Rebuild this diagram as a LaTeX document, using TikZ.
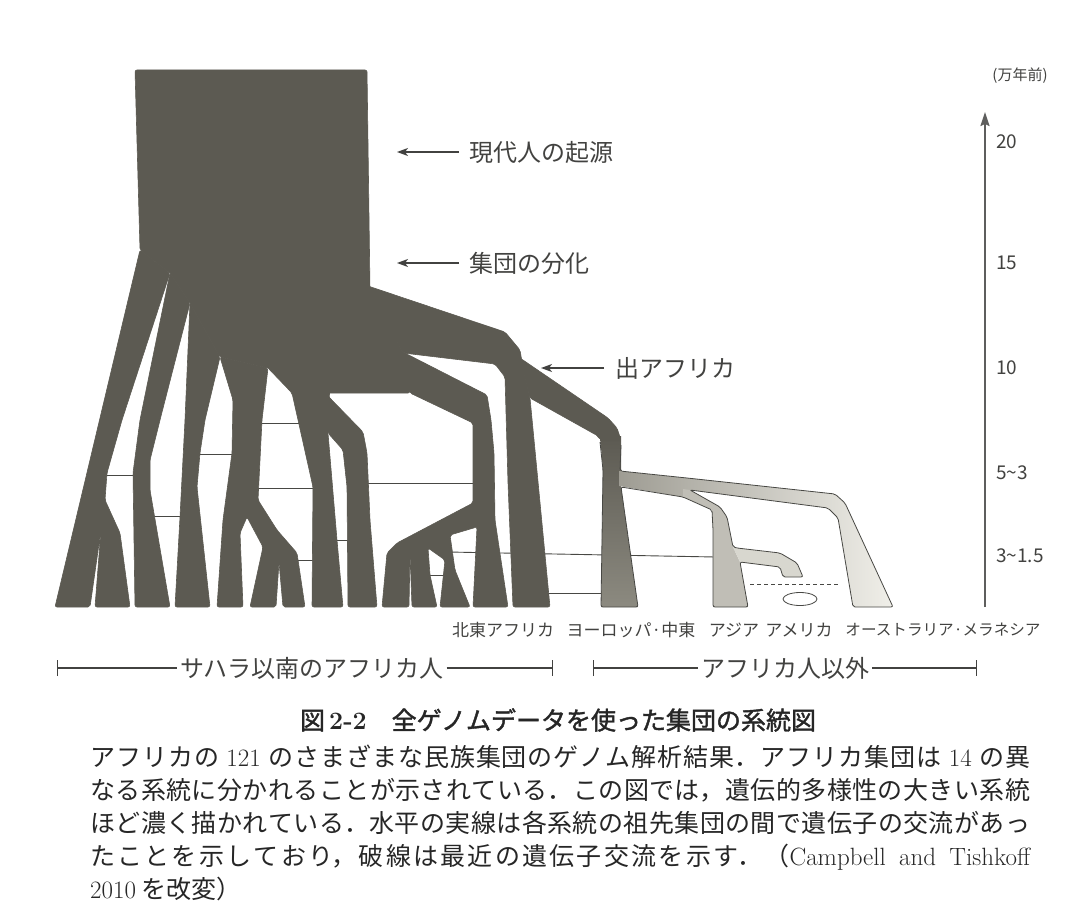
\documentclass[tikz,border=0pt]{standalone}
\usepackage{fontspec}
\newfontfamily\jp{Noto Sans CJK JP}
\newfontfamily\jpheavy[FakeBold=1.6]{Noto Sans CJK JP}
\usepackage{xcolor}
\usepackage{tikz}
\usetikzlibrary{arrows.meta,positioning}
\XeTeXlinebreaklocale "ja"
\XeTeXlinebreakskip=0pt plus 1.5pt

\definecolor{bark}{RGB}{92,90,82}
\definecolor{ink}{RGB}{66,66,64}
\definecolor{print}{RGB}{38,38,38}
\definecolor{flowline}{RGB}{72,72,68}
\definecolor{europe}{RGB}{140,138,128}
\definecolor{eurasia}{RGB}{158,156,147}
\definecolor{asia}{RGB}{192,190,182}
\definecolor{america}{RGB}{216,215,207}
\definecolor{oceania}{RGB}{240,239,233}

\tikzstyle{lineage} = [fill=bark, draw=bark, line width=0.6pt, rounded corners=2pt]
\tikzstyle{flow} = [draw=flowline, line width=0.9pt]
\tikzstyle{rim} = [draw=flowline, line width=0.8pt, rounded corners=2pt]
\tikzstyle{pointer} = [draw=ink, line width=1.2pt, -{Stealth[length=11pt,width=8pt,inset=3pt]}]
\tikzstyle{remark} = [anchor=west, inner sep=1pt, text=ink, font=\jp\fontsize{24}{28}\selectfont]
\tikzstyle{leaf} = [inner sep=0pt, text=ink, font=\jp\fontsize{17}{20}\selectfont]
\tikzstyle{agelabel} = [anchor=west, inner sep=0pt, text=ink, font=\jp\fontsize{19}{22}\selectfont]
\tikzstyle{axisline} = [draw=ink!85, line width=1.8pt, -{Stealth[length=14pt,width=9pt,inset=2pt]}]
\tikzstyle{bracket} = [draw=ink, line width=1.2pt]
\tikzstyle{region} = [inner sep=3pt, text=ink, font=\jp\fontsize{24}{28}\selectfont]

\begin{document}
\begin{tikzpicture}[x=1pt, y=-1pt]
    \useasboundingbox (0,0) rectangle (1086,920);

    % gene flow between ancestral lineages (drawn first, the branches cover the ends)
    \path [flow] (105,475) -- (136,475);
    \path [flow] (150,516) -- (182,516);
    \path [flow] (198,454) -- (234,454);
    \path [flow] (260,423) -- (300,423);
    \path [flow] (256,488) -- (315,488);
    \path [flow] (296,560) -- (315,560);
    \path [flow] (335,540) -- (350,540);
    \path [flow] (366,483) -- (476,483);
    \path [flow] (428,575) -- (446,575);
    \path [flow] (448,552) -- (715,557);
    \path [flow] (546,593) -- (604,593);
    \path [flow, dashed, dash pattern=on 4pt off 3pt] (750,584) -- (840,584);

    % trunk
    \fill [lineage] (135,70) -- (367,70) -- (370,290) -- (403,353) -- (410,393) -- (325,393)
        -- (268,368) -- (220,357) -- (190,303) -- (170,273) -- (140,250) -- cycle;
    % big branch to the right, ending in north-east Africa
    \fill [lineage] (365,285) -- (505,332) -- (520,350) -- (523,368) -- (530,398) -- (550,607)
        -- (513,607) -- (508,483) -- (505,377) -- (495,364) -- (403,353) -- cycle;

    % sub-Saharan lineages, left to right
    \fill [lineage] (140,250) -- (170,273) -- (122,420) -- (107,473) -- (105,500) -- (120,533)
        -- (130,607) -- (95,607) -- (101,530) -- (90,607) -- (55,607) -- cycle;
    \fill [lineage] (170,273) -- (190,303) -- (160,420) -- (150,460) -- (150,490) -- (170,607)
        -- (135,607) -- (133,473) -- (140,420) -- cycle;
    \fill [lineage] (190,303) -- (220,357) -- (205,420) -- (200,453) -- (197,487) -- (210,607)
        -- (175,607) -- (180,517) -- (185,420) -- cycle;
    \fill [lineage] (220,357) -- (268,368) -- (262,420) -- (258,500) -- (277,530) -- (297,553)
        -- (305,607) -- (283,607) -- (279,562) -- (276,607) -- (250,607) -- (263,547) -- (247,517)
        -- (240,533) -- (243,607) -- (217,607) -- (223,520) -- (232,453) -- (233,400) -- cycle;
    \fill [lineage] (268,368) -- (330,380) -- (328,433) -- (337,540) -- (343,607) -- (312,607)
        -- (313,487) -- (292,393) -- cycle;
    \fill [lineage] (325,393) -- (363,432) -- (367,453) -- (370,520) -- (377,607) -- (348,607)
        -- (347,487) -- (343,450) -- (328,433) -- cycle;
    % the fan of four lineages
    \fill [lineage] (395,348) -- (487,395) -- (491,420) -- (494,453) -- (495,520) -- (508,607)
        -- (473,607) -- (477,527) -- (450,535) -- (455,570) -- (470,607) -- (440,607) -- (445,560)
        -- (428,548) -- (430,575) -- (437,607) -- (412,607) -- (410,553) -- (409,607) -- (382,607)
        -- (387,553) -- (397,543) -- (473,503) -- (473,423) -- (410,393) -- cycle;

    % out of Africa
    \shade [top color=bark, bottom color=europe] (600,436) -- (621,436) -- (621,471) -- (621,487)
        -- (638,607) -- (601,607) -- (603,470) -- cycle;
    \shade [left color=eurasia, right color=oceania] (619,471) -- (687,478) -- (835,494) -- (845,503)
        -- (893,607) -- (853,607) -- (838,518) -- (828,508) -- (690,490) -- (683,497) -- (619,486) -- cycle;
    \fill [asia] (683,489) -- (690,490) -- (720,507) -- (727,517) -- (733,547) -- (740,562)
        -- (748,607) -- (713,607) -- (713,530) -- (712,510) -- (683,497) -- cycle;
    \fill [america] (733,547) -- (737,548) -- (780,553) -- (797,563) -- (803,577) -- (783,577)
        -- (780,567) -- (740,562) -- cycle;
    \fill [lineage] (520,358) -- (608,418) -- (617,428) -- (621,440) -- (600,440) -- (598,436)
        -- (530,398) -- cycle;
    \path [rim] (600,442) -- (603,470) -- (601,607) -- (638,607) -- (621,487) -- (683,497) -- (712,510)
        -- (713,530) -- (713,607) -- (748,607) -- (740,562) -- (780,567) -- (783,577) -- (803,577)
        -- (797,563) -- (780,553) -- (737,548) -- (733,547) -- (727,517) -- (720,507) -- (690,490)
        -- (828,508) -- (838,518) -- (853,607) -- (893,607) -- (845,503) -- (835,494) -- (687,478)
        -- (620,471) -- (621,445);
    \draw [flowline, line width=0.8pt] (800,599) ellipse [x radius=17pt, y radius=6.5pt];

    % events
    \node [remark] (origin) at (468,152) {現代人の起源};
    \node [remark] (split) at (468,263) {集団の分化};
    \node [remark] (exodus) at (614,368) {出アフリカ};
    \coordinate (originTip) at (397,152);
    \coordinate (splitTip) at (397,263);
    \coordinate (exodusTip) at (541,368);
    \path [pointer, shorten <=9pt] (origin) -- (originTip);
    \path [pointer, shorten <=9pt] (split) -- (splitTip);
    \path [pointer, shorten <=10pt] (exodus) -- (exodusTip);

    % time axis
    \coordinate (ageFoot) at (985,607);
    \coordinate (ageHead) at (985,112);
    \path [axisline] (ageFoot) -- (ageHead);
    \node [inner sep=0pt, text=ink, font=\jp\fontsize{15}{18}\selectfont] (unit) at (1020,76) {(万年前)};
    \node [agelabel] (age20) at (996,142) {20};
    \node [agelabel] (age15) at (996,263) {15};
    \node [agelabel] (age10) at (996,368) {10};
    \node [agelabel] (age5) at (996,473) {5\textasciitilde3};
    \node [agelabel] (age3) at (996,556) {3\textasciitilde1.5};

    % populations
    \node [leaf] (neAfrica) at (503,630) {北東アフリカ};
    \node [leaf] (europe) at (631,630) {ヨーロッパ·中東};
    \node [leaf] (asia) at (734,630) {アジア};
    \node [leaf] (america) at (799,630) {アメリカ};
    \node [leaf, font=\jp\fontsize{15.6}{19}\selectfont] (oceania) at (943,630) {オーストラリア·メラネシア};

    \node [region] (sub) at (312,668) {サハラ以南のアフリカ人};
    \node [region] (nonAfr) at (785,668) {アフリカ人以外};
    \coordinate (subL) at (57,668);
    \coordinate (subR) at (553,668);
    \coordinate (nonAfrL) at (593,668);
    \coordinate (nonAfrR) at (977,668);
    \path [bracket, {Bar[width=16pt]}-] (subL) -- (sub);
    \path [bracket, -{Bar[width=16pt]}] (sub) -- (subR);
    \path [bracket, {Bar[width=16pt]}-] (nonAfrL) -- (nonAfr);
    \path [bracket, -{Bar[width=16pt]}] (nonAfr) -- (nonAfrR);

    % caption
    \node [inner sep=0pt, text=print, font=\jpheavy\fontsize{25}{30}\selectfont] (title) at (558,720)
        {図\,{\rmfamily\bfseries 2-2}\quad 全ゲノムデータを使った集団の系統図};
    \node [anchor=base west, inner sep=0pt, text=print, font=\jp\fontsize{25}{33}\selectfont] (caption) at (90,766)
        {\parbox[t]{940pt}{アフリカの {\rmfamily 121} のさまざまな民族集団のゲノム解析結果．アフリカ集団は {\rmfamily 14} の異\linebreak
        なる系統に分かれることが示されている．この図では，遺伝的多様性の大きい系統\linebreak
        ほど濃く描かれている．水平の実線は各系統の祖先集団の間で遺伝子の交流があっ\linebreak
        たことを示しており，破線は最近の遺伝子交流を示す．（{\rmfamily Campbell and Tishkoff}\linebreak
        {\rmfamily 2010} を改変）}};
\end{tikzpicture}
\end{document}
